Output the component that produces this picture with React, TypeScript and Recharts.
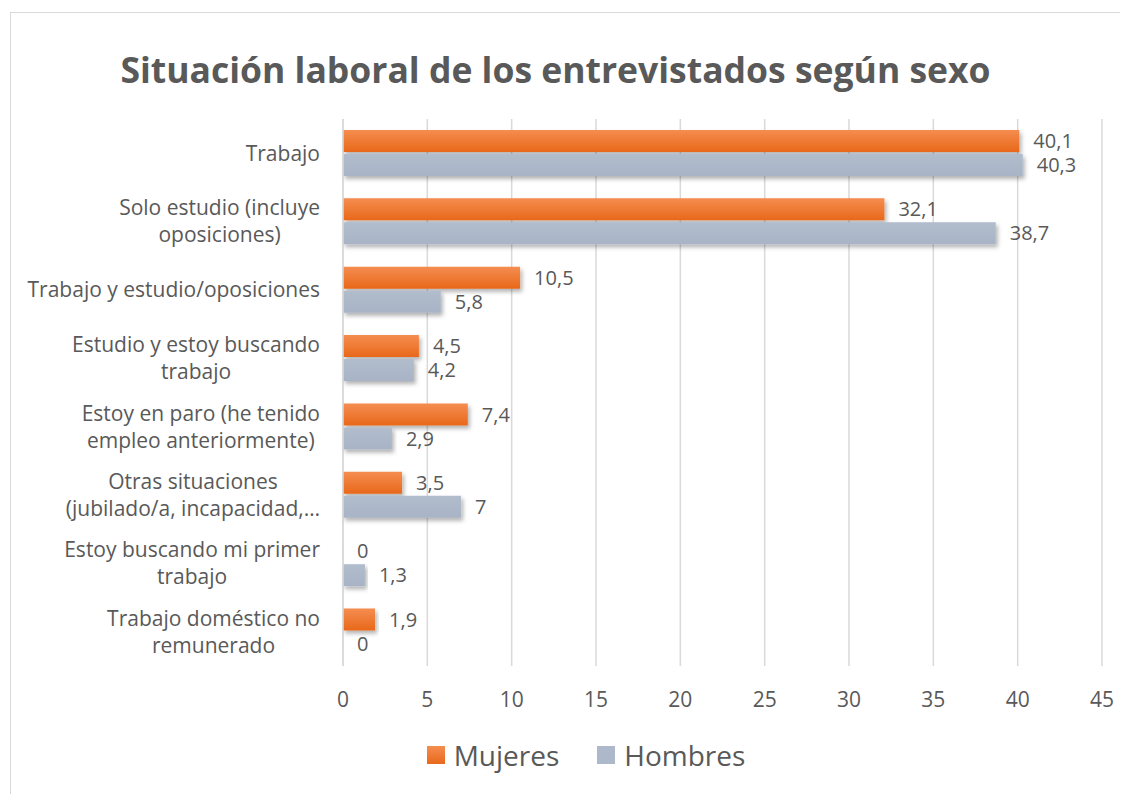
import React from 'react';
import { BarChart, Bar, XAxis, YAxis, CartesianGrid, LabelList } from 'recharts';

// categories (line breaks as in the original labels)
const categories = [
  'Trabajo',
  'Solo estudio (incluye\noposiciones)',
  'Trabajo y estudio/oposiciones',
  'Estudio y estoy buscando\ntrabajo',
  'Estoy en paro (he tenido\nempleo anteriormente)',
  'Otras situaciones\n(jubilado/a, incapacidad,…',
  'Estoy buscando mi primer\ntrabajo',
  'Trabajo doméstico no\nremunerado',
];
const mujeres = [40.1, 32.1, 10.5, 4.5, 7.4, 3.5, 0, 1.9];
const hombres = [40.3, 38.7, 5.8, 4.2, 2.9, 7, 1.3, 0];
const xTicks = [0, 5, 10, 15, 20, 25, 30, 35, 40, 45];

const data = categories.map((c, i) => ({ name: c, mujeres: mujeres[i], hombres: hombres[i] }));

const FONT = '"Open Sans", sans-serif';
const TEXT = '#595959';
const GRAY = '#ADB9CA';

let canvas: HTMLCanvasElement | null = null;
const measure = (s: string, size: number) => {
  if (!canvas) canvas = document.createElement('canvas');
  const ctx = canvas.getContext('2d')!;
  ctx.font = `${size}px "Open Sans"`;
  return ctx.measureText(s).width;
};

const fmt = (v: any) => String(v).replace('.', ',');

const CategoryTick = (props: any) => {
  const { y, payload } = props;
  const lines: string[] = String(payload.value).split('\n');
  const size = 21;
  const maxW = Math.max(...lines.map((l) => measure(l, size)));
  const right = 309;
  const cx = right - maxW / 2;
  const lh = 27;
  const start = y - ((lines.length - 1) * lh) / 2;
  return (
    <g>
      {lines.map((l, i) => (
        <text key={i} x={cx} y={start + i * lh} dy="0.35em" textAnchor="middle" fill={TEXT} fontSize={size} fontFamily={FONT}>
          {l}
        </text>
      ))}
    </g>
  );
};

export default function App() {
  return (
    <div
      style={{
        position: 'relative',
        width: 1130,
        height: 790,
        marginLeft: 2,
        marginTop: 4,
        border: '1px solid #d9d9d9',
        background: '#fff',
        fontFamily: FONT,
        boxSizing: 'border-box',
      }}
    >
      <div
        style={{
          position: 'absolute',
          left: 0,
          top: 34,
          width: 1089,
          textAlign: 'center',
          fontSize: 35.5,
          fontWeight: 700,
          color: TEXT,
          lineHeight: '44px',
        }}
      >
        Situación laboral de los entrevistados según sexo
      </div>
      <div style={{ position: 'absolute', left: 0, top: 0 }}>
        <BarChart
          width={1115}
          height={780}
          data={data}
          layout="vertical"
          margin={{ top: 106, right: 24, left: 0, bottom: 97 }}
          barCategoryGap="16%"
          barGap={2}
        >
          <defs>
            <linearGradient id="gOrange" x1="0" y1="0" x2="0" y2="1">
              <stop offset="0%" stopColor="#F58D50" />
              <stop offset="100%" stopColor="#E8681A" />
            </linearGradient>
            <linearGradient id="gGray" x1="0" y1="0" x2="0" y2="1">
              <stop offset="0%" stopColor="#B1BCCC" />
              <stop offset="100%" stopColor="#A8B4C6" />
            </linearGradient>
            <filter id="shadow" x="-5%" y="-30%" width="115%" height="180%">
              <feDropShadow dx="2" dy="3" stdDeviation="2" floodColor="#000" floodOpacity="0.3" />
            </filter>
          </defs>
          <CartesianGrid horizontal={false} stroke="#d9d9d9" strokeWidth={1.5} />
          <XAxis
            type="number"
            domain={[0, 45]}
            ticks={xTicks}
            axisLine={false}
            tickLine={false}
            tickMargin={20}
            height={30}
            tick={{ fill: TEXT, fontSize: 21, fontFamily: FONT }}
          />
          <YAxis
            type="category"
            dataKey="name"
            width={332}
            axisLine={{ stroke: '#d9d9d9', strokeWidth: 1.5 }}
            tickLine={false}
            tick={<CategoryTick />}
            interval={0}
          />
          <Bar dataKey="mujeres" fill="url(#gOrange)" isAnimationActive={false} filter="url(#shadow)" minPointSize={0.01}>
            <LabelList dataKey="mujeres" position="right" offset={14} formatter={fmt} fill={TEXT} fontSize={20} fontFamily={FONT} />
          </Bar>
          <Bar dataKey="hombres" fill="url(#gGray)" isAnimationActive={false} filter="url(#shadow)" minPointSize={0.01}>
            <LabelList dataKey="hombres" position="right" offset={14} formatter={fmt} fill={TEXT} fontSize={20} fontFamily={FONT} />
          </Bar>
        </BarChart>
      </div>
      <div
        style={{
          position: 'absolute',
          top: 723,
          left: 0,
          width: 1150,
          display: 'flex',
          justifyContent: 'center',
          alignItems: 'center',
          color: TEXT,
          fontSize: 28,
        }}
      >
        <span style={{ display: 'inline-block', width: 18, height: 18, background: 'linear-gradient(#F58D50,#E8681A)', marginRight: 9 }} />
        <span style={{ marginRight: 38 }}>Mujeres</span>
        <span style={{ display: 'inline-block', width: 18, height: 18, background: GRAY, marginRight: 9 }} />
        <span>Hombres</span>
      </div>
    </div>
  );
}
